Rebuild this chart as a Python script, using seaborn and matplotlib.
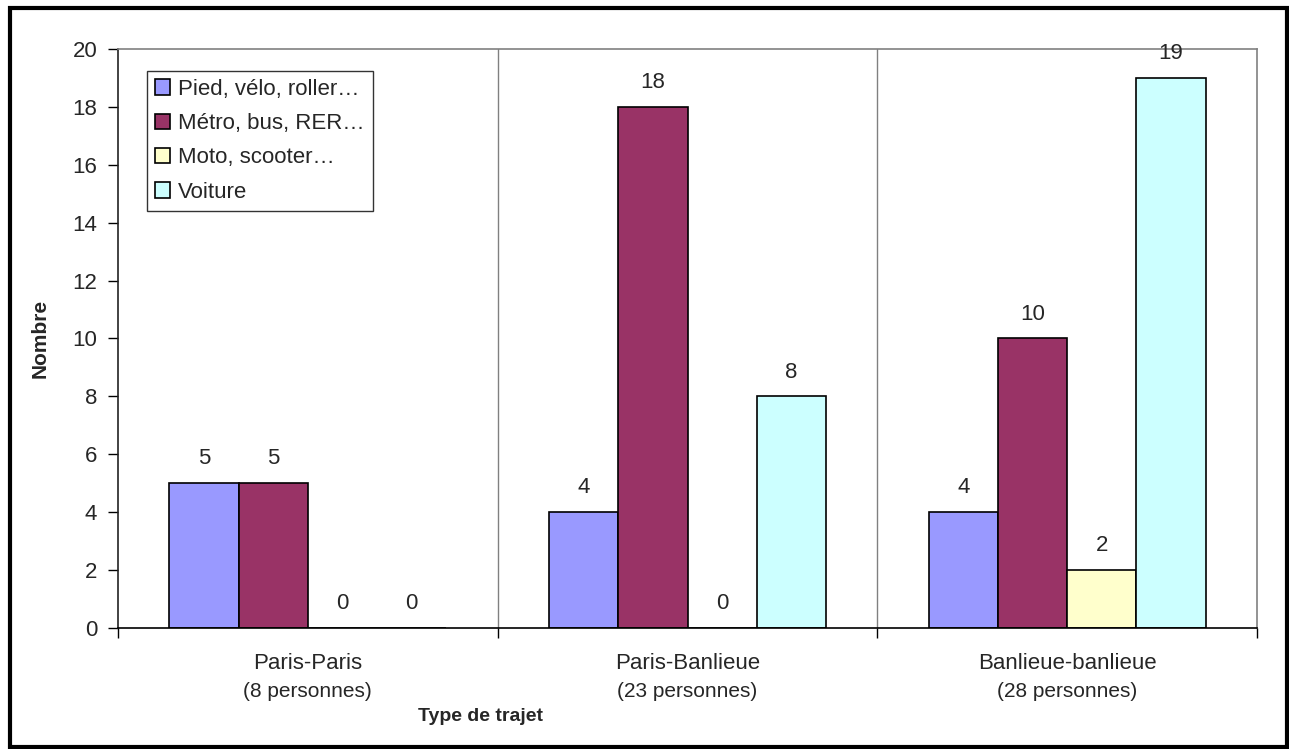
import pandas as pd
import numpy as np
import matplotlib
matplotlib.use("Agg")
import matplotlib.pyplot as plt
import seaborn as sns
from matplotlib.patches import Rectangle
from matplotlib.transforms import blended_transform_factory

# ==================================================
# DATA
# ==================================================

trajets = ["Paris-Paris", "Paris-Banlieue", "Banlieue-banlieue"]
personnes = ["(8 personnes)", "(23 personnes)", "(28 personnes)"]
modes = ["Pied, vélo, roller…", "Métro, bus, RER…", "Moto, scooter…", "Voiture"]

pied = [5, 4, 4]
metro = [5, 18, 10]
moto = [0, 0, 2]
voiture = [0, 8, 19]

colors = ["#9999FF", "#993366", "#FFFFCC", "#CCFFFF"]

rows = []
for serie, vals in zip(modes, [pied, metro, moto, voiture]):
    for t, v in zip(trajets, vals):
        rows.append({"trajet": t, "mode": serie, "nombre": v})
df = pd.DataFrame(rows)

# ==================================================
# STYLE
# ==================================================

sns.set_style("white")
plt.rcParams["font.family"] = ["Liberation Sans", "DejaVu Sans"]

fig = plt.figure(figsize=(12.89, 7.49), dpi=100)
ax = fig.add_axes([118 / 1289, 1 - 628 / 749, 1139 / 1289, 579 / 749])

sns.barplot(
    data=df,
    x="trajet",
    y="nombre",
    hue="mode",
    order=trajets,
    hue_order=modes,
    palette=colors,
    saturation=1,
    width=0.73,
    edgecolor="black",
    linewidth=1.2,
    ax=ax
)

# labels above bars
for cont in ax.containers:
    ax.bar_label(cont, padding=10, fontsize=16)

ax.set_ylim(0, 20)
ax.set_xlim(-0.5, 2.5)
ax.set_yticks(np.arange(0, 21, 2))
ax.tick_params(axis="y", labelsize=16, length=7, width=1, color="black",
               direction="out", left=True, pad=8)

# category boundaries as major ticks, names as minor labels
ax.set_xticks([-0.5, 0.5, 1.5, 2.5])
ax.set_xticklabels([])
ax.tick_params(axis="x", which="major", length=7, width=1, color="black",
               direction="out", bottom=True)
ax.set_xticks([0, 1, 2], minor=True)
ax.set_xticklabels(trajets, minor=True, fontsize=16)
ax.tick_params(axis="x", which="minor", length=0, pad=18)

trans = blended_transform_factory(ax.transData, ax.transAxes)
for i, p in enumerate(personnes):
    ax.text(i, -0.11, p, transform=trans, ha="center", va="center", fontsize=15)

for xb in [0.5, 1.5]:
    ax.axvline(xb, color="#808080", linewidth=1)

for side in ["top", "right"]:
    ax.spines[side].set_color("#808080")
    ax.spines[side].set_linewidth(1.2)
ax.spines["left"].set_color("#222222")
ax.spines["bottom"].set_color("black")
ax.spines["left"].set_linewidth(1.2)
ax.spines["bottom"].set_linewidth(1.2)

ax.set_ylabel("Nombre", fontsize=15, fontweight="bold", labelpad=16)
ax.set_xlabel("Type de trajet", fontsize=14, fontweight="bold")
ax.xaxis.set_label_coords((480 - 118) / 1139, -0.138)

handles, labels = ax.get_legend_handles_labels()
leg = ax.legend(
    handles, labels,
    loc="upper left",
    bbox_to_anchor=(0.0255, 0.962),
    borderaxespad=0,
    fontsize=16,
    frameon=True,
    fancybox=False,
    edgecolor="black",
    handlelength=0.7,
    handleheight=0.7,
    handletextpad=0.35,
    labelspacing=0.6,
    borderpad=0.35
)
leg.get_frame().set_linewidth(1)

# outer frame
fig.patches.append(Rectangle((10 / 1289, 2 / 749), 1277 / 1289, 739 / 749,
                             transform=fig.transFigure, fill=False,
                             edgecolor="black", linewidth=3))

plt.savefig("out.png", dpi=100)
